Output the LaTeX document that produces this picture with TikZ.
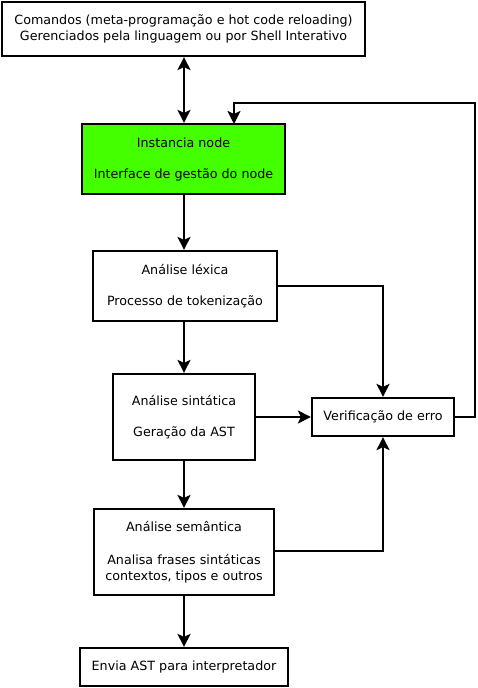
\documentclass[tikz,border=0pt]{standalone}
\usepackage{fontspec}
\setmainfont{DejaVu Sans}
\usetikzlibrary{arrows.meta}
\definecolor{nodegreen}{RGB}{68,255,0}
\begin{document}
\begin{tikzpicture}[x=1pt,y=-1pt,
  box/.style={draw=black,line width=2.2pt,fill=white,inner sep=0pt,align=center,
    font=\fontsize{12.7}{16}\selectfont},
  tip/.tip={Stealth[length=13pt,width=13pt,inset=3pt]},
  conn/.style={line width=2.2pt,-tip},
  conn2/.style={line width=2.2pt,tip-tip}]
\useasboundingbox (0,0) rectangle (477,688);
\node[box,minimum width=363pt,minimum height=54pt] (cmd) at (183.5,29)
  {Comandos (meta-programação e hot code reloading)\\Gerenciados pela linguagem ou por Shell Interativo};
\node[box,fill=nodegreen,minimum width=203pt,minimum height=70pt] (inst) at (183.5,159)
  {Instancia node\\[15pt]Interface de gestão do node};
\node[box,minimum width=184pt,minimum height=70pt] (lex) at (185,286)
  {Análise léxica\\[15pt]Processo de tokenização};
\node[box,minimum width=142pt,minimum height=86pt] (sin) at (184,417)
  {Análise sintática\\[15pt]Geração da AST};
\node[box,minimum width=142pt,minimum height=38pt] (ver) at (383,417)
  {Verificação de erro};
\node[box,minimum width=180pt,minimum height=86pt] (sem) at (184,552)
  {Análise semântica\\[17pt]Analisa frases sintáticas\\contextos, tipos e outros};
\node[box,minimum width=208pt,minimum height=38pt] (env) at (184,667)
  {Envia AST para interpretador};
\coordinate (instin) at (234,124);
\coordinate (loopr) at (475,103);
\draw[conn2] (cmd.south -| 184,0) -- (inst.north -| 184,0);
\draw[conn] (inst.south -| 184,0) -- (lex.north -| 184,0);
\draw[conn] (lex.south -| 184,0) -- (sin.north);
\draw[conn] (sin.south) -- (sem.north);
\draw[conn] (sem.south) -- (env.north);
\draw[conn] (lex.east |- 0,286) -| (ver.north);
\draw[conn] (sin.east) -- (ver.west);
\draw[conn] (sem.east |- 0,551) -| (ver.south);
\draw[conn] (ver.east) -| (loopr) -| (instin);
\end{tikzpicture}
\end{document}
